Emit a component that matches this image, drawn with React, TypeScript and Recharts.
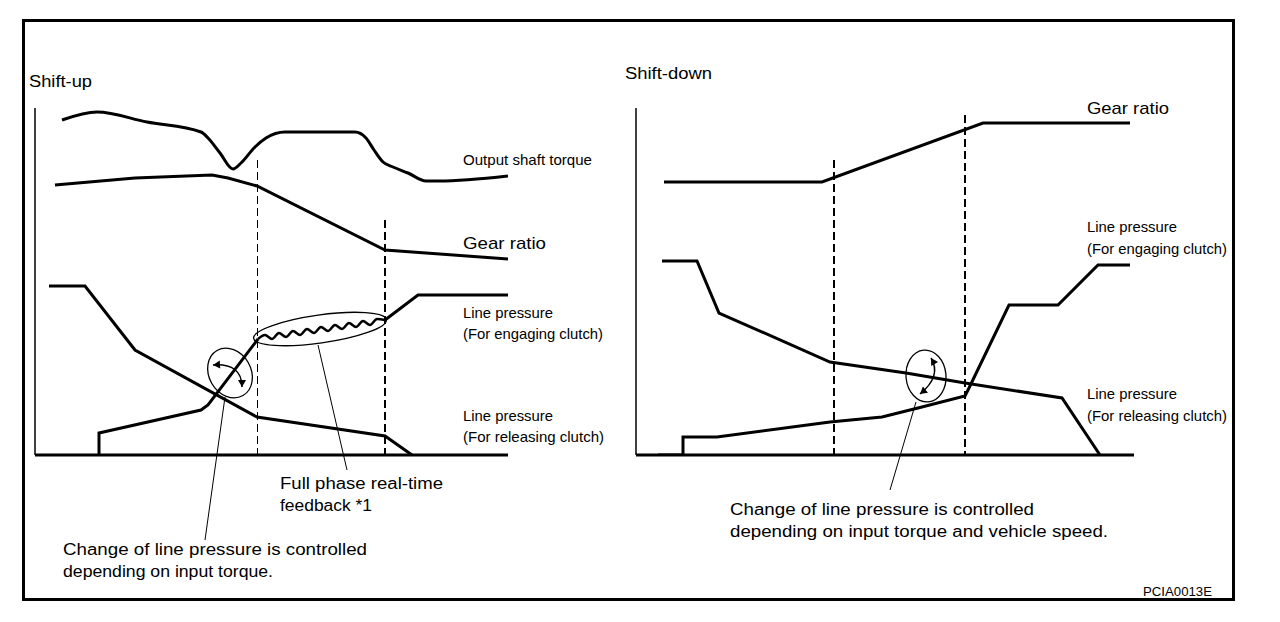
import React from "react";
import { LineChart, Line, XAxis, YAxis, ReferenceLine, ReferenceDot } from "recharts";

// ---- Shift-up (time units along x, level units along y) ----
const upTorque = [
  { x: 27, y: 335 }, { x: 62, y: 343 }, { x: 112, y: 333 }, { x: 166, y: 323 },
  { x: 173, y: 317 }, { x: 185, y: 302 }, { x: 198, y: 286 }, { x: 206, y: 292 },
  { x: 220, y: 308 }, { x: 231, y: 317 }, { x: 250, y: 323 }, { x: 320, y: 323 },
  { x: 331, y: 317 }, { x: 339, y: 305 }, { x: 348, y: 293 }, { x: 358, y: 288 },
  { x: 373, y: 282 }, { x: 391, y: 274 }, { x: 404, y: 274 }, { x: 473, y: 279 },
];
const upGear = [
  { x: 20, y: 270 }, { x: 100, y: 277 }, { x: 177, y: 280 }, { x: 193, y: 277 },
  { x: 222, y: 269 }, { x: 350, y: 205 }, { x: 473, y: 196 },
];
const upEngageLow = [
  { x: 64, y: 0 }, { x: 64, y: 22 }, { x: 166, y: 45 }, { x: 173, y: 50 }, { x: 223, y: 116 },
];
const upEngageWave = [
  { x: 223, y: 116 }, { x: 230, y: 120 }, { x: 237, y: 116 }, { x: 244, y: 122 },
  { x: 251, y: 118 }, { x: 258, y: 124 }, { x: 265, y: 120 }, { x: 272, y: 126 },
  { x: 279, y: 122 }, { x: 286, y: 128 }, { x: 293, y: 124 }, { x: 300, y: 130 },
  { x: 307, y: 126 }, { x: 314, y: 132 }, { x: 321, y: 128 }, { x: 328, y: 134 },
  { x: 335, y: 130 }, { x: 342, y: 136 }, { x: 350, y: 135 },
];
const upEngageHigh = [{ x: 350, y: 135 }, { x: 383, y: 160 }, { x: 473, y: 160 }];
const upRelease = [
  { x: 14, y: 169 }, { x: 50, y: 169 }, { x: 100, y: 105 }, { x: 222, y: 38 },
  { x: 350, y: 19 }, { x: 377, y: 0 },
];
const upPhases = [
  { x: 222.5, top: 295 },
  { x: 350, top: 235 },
];

// ---- Shift-down ----
const downGear = [
  { x: 28, y: 273 }, { x: 186, y: 273 }, { x: 347, y: 332 }, { x: 494, y: 332 },
];
const downEngage = [
  { x: 22, y: 0 }, { x: 47, y: 0 }, { x: 47, y: 18 }, { x: 81, y: 18 }, { x: 194, y: 33 },
  { x: 246, y: 38 }, { x: 282, y: 47 }, { x: 329, y: 59 }, { x: 333, y: 67 },
  { x: 373, y: 150 }, { x: 422, y: 150 }, { x: 462, y: 190 }, { x: 494, y: 190 },
];
const downRelease = [
  { x: 26, y: 194 }, { x: 61, y: 194 }, { x: 83, y: 142 }, { x: 194, y: 93 },
  { x: 270, y: 82 }, { x: 329, y: 72 }, { x: 426, y: 57 }, { x: 464, y: 0 },
];
const downPhases = [
  { x: 198, top: 295 },
  { x: 329, top: 340 },
];

const labels = [
  { t: "Shift-up", x: 29, y: 87, w: 63, s: 16 },
  { t: "Output shaft torque", x: 463, y: 165, w: 129, s: 15 },
  { t: "Gear ratio", x: 463, y: 249, w: 83, s: 17 },
  { t: "Line pressure", x: 463, y: 318, w: 90, s: 15 },
  { t: "(For engaging clutch)", x: 463, y: 339, w: 140, s: 15 },
  { t: "Line pressure", x: 463, y: 421, w: 90, s: 15 },
  { t: "(For releasing clutch)", x: 463, y: 442, w: 141, s: 15 },
  { t: "Full phase real-time", x: 280, y: 489, w: 163, s: 16 },
  { t: "feedback *1", x: 280, y: 511, w: 92, s: 16 },
  { t: "Change of line pressure is controlled", x: 63, y: 555, w: 304, s: 16 },
  { t: "depending on input torque.", x: 63, y: 577, w: 210, s: 16 },
  { t: "Shift-down", x: 625, y: 79, w: 87, s: 16 },
  { t: "Gear ratio", x: 1087, y: 114, w: 82, s: 17 },
  { t: "Line pressure", x: 1087, y: 232, w: 90, s: 15 },
  { t: "(For engaging clutch)", x: 1087, y: 254, w: 140, s: 15 },
  { t: "Line pressure", x: 1087, y: 399, w: 90, s: 15 },
  { t: "(For releasing clutch)", x: 1087, y: 421, w: 140, s: 15 },
  { t: "Change of line pressure is controlled", x: 730, y: 515, w: 304, s: 16 },
  { t: "depending on input torque and vehicle speed.", x: 730, y: 537, w: 378, s: 16 },
  { t: "PCIA0013E", x: 1143, y: 596, w: 69, s: 12 },
];

const FONT = '"Liberation Sans", Arial, Helvetica, sans-serif';

function arrowHead(x: number, y: number, ang: number) {
  const len = 7;
  const w = 4;
  const bx = x - len * Math.cos(ang);
  const by = y - len * Math.sin(ang);
  const px = -Math.sin(ang) * w;
  const py = Math.cos(ang) * w;
  return `M${x},${y} L${bx + px},${by + py} L${bx - px},${by - py} Z`;
}

// small ellipse with a curved double arrow, centred on the dot
function CtrlMark(props: any, rx: number, ry: number, rot: number, s: number[], c: number[], e: number[]) {
  const { cx, cy } = props;
  if (cx == null || cy == null) return <g />;
  const sx = cx + s[0], sy = cy + s[1];
  const qx = cx + c[0], qy = cy + c[1];
  const ex = cx + e[0], ey = cy + e[1];
  const a0 = Math.atan2(sy - qy, sx - qx);
  const a1 = Math.atan2(ey - qy, ex - qx);
  return (
    <g>
      <ellipse cx={cx} cy={cy} rx={rx} ry={ry} fill="none" stroke="#000" strokeWidth={1.3}
        transform={`rotate(${rot} ${cx} ${cy})`} />
      <path d={`M${sx},${sy} Q${qx},${qy} ${ex},${ey}`} fill="none" stroke="#000" strokeWidth={1.5} />
      <path d={arrowHead(sx, sy, a0)} fill="#000" />
      <path d={arrowHead(ex, ey, a1)} fill="#000" />
    </g>
  );
}

function WaveRing(props: any) {
  const { cx, cy } = props;
  if (cx == null || cy == null) return <g />;
  return (
    <ellipse cx={cx} cy={cy} rx={67} ry={14} fill="none" stroke="#000" strokeWidth={1.3}
      transform={`rotate(-8 ${cx} ${cy})`} />
  );
}

const lineProps = { dataKey: "y", stroke: "#000", strokeWidth: 3, dot: false, isAnimationActive: false, activeDot: false } as const;

export default function App() {
  return (
    <div style={{ position: "absolute", left: 0, top: 0, width: 1280, height: 622, background: "#fff" }}>
      <div style={{ position: "absolute", left: 0, top: 0 }}>
        <LineChart width={620} height={622} margin={{ top: 108, left: 35, right: 112, bottom: 167 }}>
          <XAxis type="number" dataKey="x" domain={[0, 473]} allowDataOverflow hide />
          <YAxis type="number" domain={[0, 347]} allowDataOverflow hide />
          <ReferenceLine x={0} stroke="#000" strokeWidth={1.5} />
          {upPhases.map((p, i) => (
            <ReferenceLine key={i} ifOverflow="visible" segment={[{ x: p.x, y: p.top }, { x: p.x, y: 0 }]}
              stroke="#000" strokeWidth={i === 0 ? 1 : 2} strokeDasharray="8 4" />
          ))}
          <Line {...lineProps} data={upTorque} type="monotone" />
          <Line {...lineProps} data={upGear} type="linear" />
          <Line {...lineProps} data={upEngageLow} type="linear" />
          <Line {...lineProps} data={upEngageWave} type="monotone" strokeWidth={2.5} />
          <Line {...lineProps} data={upEngageHigh} type="linear" />
          <Line {...lineProps} data={upRelease} type="linear" />
          <ReferenceLine y={0} stroke="#000" strokeWidth={3} />
          <ReferenceDot x={195} y={82} r={1} ifOverflow="visible"
            shape={(p: any) => CtrlMark(p, 21, 26, -30, [-17, -8], [12, -10], [12, 14])} />
          <ReferenceDot x={285} y={126} r={1} ifOverflow="visible" shape={(p: any) => WaveRing(p)} />
          <ReferenceLine ifOverflow="visible" segment={[{ x: 190, y: 58 }, { x: 170, y: -85 }]} stroke="#000" strokeWidth={1} />
          <ReferenceLine ifOverflow="visible" segment={[{ x: 283, y: 110 }, { x: 312, y: -15 }]} stroke="#000" strokeWidth={1} />
        </LineChart>
      </div>
      <div style={{ position: "absolute", left: 620, top: 0 }}>
        <LineChart width={660} height={622} margin={{ top: 108, left: 16, right: 146, bottom: 167 }}>
          <XAxis type="number" dataKey="x" domain={[0, 498]} allowDataOverflow hide />
          <YAxis type="number" domain={[0, 347]} allowDataOverflow hide />
          <ReferenceLine x={0} stroke="#000" strokeWidth={1.5} />
          {downPhases.map((p, i) => (
            <ReferenceLine key={i} ifOverflow="visible" segment={[{ x: p.x, y: p.top }, { x: p.x, y: 0 }]}
              stroke="#000" strokeWidth={2} strokeDasharray="8 4" />
          ))}
          <Line {...lineProps} data={downGear} type="linear" />
          <Line {...lineProps} data={downEngage} type="linear" />
          <Line {...lineProps} data={downRelease} type="linear" />
          <ReferenceLine y={0} stroke="#000" strokeWidth={3} />
          <ReferenceDot x={290} y={79} r={1} ifOverflow="visible"
            shape={(p: any) => CtrlMark(p, 20, 26, -5, [5, -18], [16, 0], [-6, 18])} />
          <ReferenceLine ifOverflow="visible" segment={[{ x: 280, y: 53 }, { x: 254, y: -35 }]} stroke="#000" strokeWidth={1} />
        </LineChart>
      </div>
      <svg width={1280} height={622} style={{ position: "absolute", left: 0, top: 0, pointerEvents: "none" }}>
        <rect x={23.5} y={20.5} width={1210} height={579} fill="none" stroke="#000" strokeWidth={3} />
        {labels.map((l, i) => (
          <text key={i} x={l.x} y={l.y} fontFamily={FONT} fontSize={l.s} fill="#000"
            textLength={l.w} lengthAdjust="spacingAndGlyphs">{l.t}</text>
        ))}
      </svg>
    </div>
  );
}
